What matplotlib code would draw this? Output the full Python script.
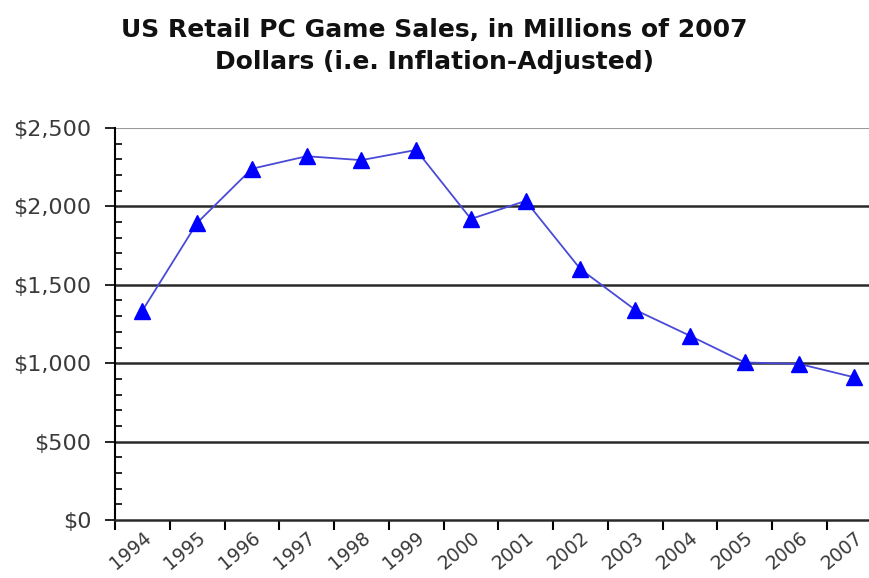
import matplotlib.pyplot as plt
from matplotlib.ticker import FuncFormatter, MultipleLocator, FixedLocator

years = ['1994', '1995', '1996', '1997', '1998', '1999', '2000',
         '2001', '2002', '2003', '2004', '2005', '2006', '2007']
sales = [1335, 1895, 2240, 2320, 2295, 2360, 1920,
         2035, 1600, 1340, 1175, 1005, 995, 910]

plt.rcParams['font.family'] = ['DejaVu Sans']

fig = plt.figure(figsize=(8.69, 5.78), dpi=100)
ax = fig.add_axes([115 / 869, 1 - 520 / 578, 1 - 115 / 869, 392 / 578])

x = list(range(len(years)))
ax.plot(x, sales, color='#4a4ad8', linewidth=1.3, marker='^',
        markersize=11, markerfacecolor='#0000ff', markeredgecolor='#0000ff', zorder=3)

ax.set_ylim(0, 2500)
ax.set_xlim(-0.5, 13.27)

# lineas de la cuadricula
for v in [500, 1000, 1500, 2000]:
    ax.axhline(v, color='#2a2a2a', linewidth=1.8, zorder=1)
ax.axhline(2500, color='#999999', linewidth=1.5, zorder=1)

ax.yaxis.set_major_locator(MultipleLocator(500))
ax.yaxis.set_minor_locator(MultipleLocator(100))
ax.yaxis.set_major_formatter(FuncFormatter(lambda v, p: '${:,.0f}'.format(v)))
ax.tick_params(axis='y', which='major', direction='out', length=7, width=1.2,
               labelsize=16, labelcolor='#3a3a3a', pad=10)
ax.tick_params(axis='y', which='minor', direction='in', length=5, width=1.2)

ax.xaxis.set_major_locator(FixedLocator([i - 0.5 for i in range(15)]))
ax.xaxis.set_minor_locator(FixedLocator(x))
ax.set_xticklabels([])
ax.set_xticklabels(years, minor=True, rotation=40, ha='right', rotation_mode='anchor')
ax.tick_params(axis='x', which='minor', length=0, labelsize=13.5, labelcolor='#3a3a3a', pad=6)
ax.tick_params(axis='x', which='major', direction='out', length=7, width=1.5)

for s in ['top', 'right']:
    ax.spines[s].set_visible(False)
ax.spines['left'].set_linewidth(1.5)
ax.spines['bottom'].set_linewidth(1.8)
ax.spines['bottom'].set_color('#2a2a2a')

fig.text(0.5, 1 - 30 / 578, 'US Retail PC Game Sales, in Millions of 2007',
         ha='center', va='center', fontsize=18, fontweight='bold', color='#111111')
fig.text(0.5, 1 - 62 / 578, 'Dollars (i.e. Inflation-Adjusted)',
         ha='center', va='center', fontsize=18, fontweight='bold', color='#111111')

fig.savefig('out.png', dpi=100)
